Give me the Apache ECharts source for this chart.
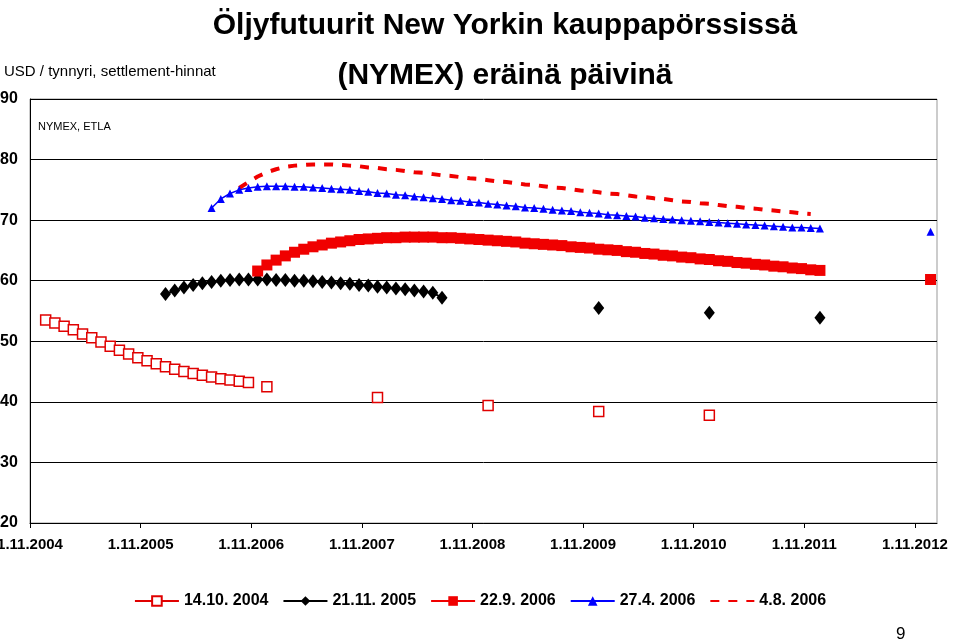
<!DOCTYPE html>
<html><head><meta charset="utf-8">
<script src="https://cdn.jsdelivr.net/npm/echarts@6/dist/echarts.min.js"></script>
<style>html,body{margin:0;padding:0;background:#fff}#c{width:960px;height:644px}</style>
</head><body><div id="c"></div>
<script>
const seriesNames = ['14.10. 2004','21.11. 2005','22.9. 2006','27.4. 2006','4.8. 2006'];
const xTickLabels = ['1.11.2004','1.11.2005','1.11.2006','1.11.2007','1.11.2008','1.11.2009','1.11.2010','1.11.2011','1.11.2012'];

const s1Start = '2004-12';
const s1Values = [53.5,53.0,52.5,51.9,51.2,50.6,49.9,49.2,48.5,47.9,47.3,46.8,46.3,45.8,45.4,45.0,44.7,44.4,44.1,43.8,43.6,43.4,43.2];
const s1ExtraMonths = ['2006-12','2007-12','2008-12','2009-12','2010-12'];
const s1ExtraValues = [42.5,40.7,39.4,38.4,37.8];

const s2Start = '2006-01';
const s2Values = [57.8,58.4,58.9,59.3,59.6,59.8,60.0,60.1,60.2,60.2,60.2,60.2,60.1,60.1,60.0,60.0,59.9,59.8,59.7,59.6,59.5,59.3,59.2,59.0,58.9,58.7,58.6,58.4,58.2,58.0,57.2];
const s2ExtraMonths = ['2009-12','2010-12','2011-12'];
const s2ExtraValues = [55.5,54.7,53.9];

const s3Start = '2006-11';
const s3Values = [61.6,62.6,63.4,64.1,64.7,65.2,65.6,65.9,66.2,66.4,66.6,66.8,66.9,67.0,67.1,67.1,67.2,67.2,67.2,67.2,67.1,67.1,67.0,66.9,66.8,66.7,66.6,66.5,66.4,66.2,66.1,66.0,65.9,65.8,65.6,65.5,65.4,65.2,65.1,65.0,64.8,64.7,64.5,64.4,64.2,64.1,63.9,63.8,63.6,63.5,63.3,63.2,63.0,62.9,62.7,62.6,62.4,62.3,62.1,62.0,61.8,61.7];
const s3ExtraMonths = ['2012-12'];
const s3ExtraValues = [60.2];

const s4Start = '2006-06';
const s4Values = [72.0,73.5,74.4,75.0,75.3,75.5,75.6,75.6,75.6,75.5,75.5,75.4,75.3,75.2,75.1,75.0,74.8,74.7,74.5,74.4,74.2,74.1,73.9,73.8,73.6,73.5,73.3,73.2,73.0,72.9,72.7,72.6,72.4,72.3,72.1,72.0,71.9,71.7,71.6,71.5,71.3,71.2,71.1,70.9,70.8,70.7,70.6,70.4,70.3,70.2,70.1,70.0,69.9,69.8,69.7,69.6,69.5,69.4,69.3,69.2,69.1,69.0,68.9,68.8,68.8,68.7,68.6];
const s4ExtraMonths = ['2012-12'];
const s4ExtraValues = [68.1];

const s5Start = '2006-09';
const s5Values = [75.3,76.3,77.2,77.9,78.4,78.8,79.0,79.1,79.2,79.2,79.2,79.1,79.0,78.9,78.7,78.6,78.4,78.3,78.1,77.9,77.8,77.6,77.4,77.3,77.1,76.9,76.8,76.6,76.4,76.3,76.1,75.9,75.8,75.6,75.4,75.3,75.1,74.9,74.8,74.6,74.4,74.3,74.1,73.9,73.8,73.6,73.5,73.3,73.1,73.0,72.8,72.7,72.5,72.3,72.2,72.0,71.9,71.7,71.6,71.4,71.3,71.1,71.0];

function mi(s){const p=s.split('-').map(Number);return (p[0]-2004)*12+(p[1]-11)+0.7;}
function build(start, vals, exM, exV){
  const b=mi(start); const d=vals.map((v,i)=>[b+i,v]);
  (exM||[]).forEach((m,i)=>{d.push([mi(m)-0.5,null]);d.push([mi(m),exV[i]]);});
  return d;
}
const FONT="'Liberation Sans',Arial,sans-serif";
const chart=echarts.init(document.getElementById('c'),null,{renderer:'canvas'});
chart.setOption({
  animation:false,
  title:[
    {text:'Öljyfutuurit New Yorkin kauppapörssissä\n(NYMEX) eräinä päivinä',left:500,top:-4,textAlign:'center',
     textStyle:{fontFamily:FONT,fontSize:30,fontWeight:'bold',color:'#000',lineHeight:50}},
  ],
  graphic:[
    {type:'text',left:4,top:64,style:{text:'USD / tynnyri, settlement-hinnat',font:"15px "+FONT,fill:'#000'}},
    {type:'text',left:38,top:121,style:{text:'NYMEX, ETLA',font:"11px 'Liberation Sans',Arial",fill:'#000'}},
    {type:'text',left:896,top:626,style:{text:'9',font:"17px 'Liberation Sans',Arial",fill:'#000'}}
  ],
  grid:{left:30,right:23,top:99,bottom:121,outerBoundsMode:'none',containLabel:false,show:true,borderColor:'#999',borderWidth:1},
  legend:{bottom:30,left:'center',itemWidth:44,itemHeight:12,itemGap:14,
    textStyle:{fontFamily:FONT,fontSize:16,fontWeight:'bold',color:'#000'},
    data:[seriesNames[0],seriesNames[1],seriesNames[2],seriesNames[3],{name:seriesNames[4],itemStyle:{opacity:0}}]},
  xAxis:{type:'value',min:0,max:98.4,interval:12,
    axisLine:{show:true,lineStyle:{color:'#000'}},axisTick:{show:true,length:5,lineStyle:{color:'#000'}},
    splitLine:{show:false},
    axisLabel:{margin:14,fontFamily:FONT,fontSize:15,fontWeight:'bold',color:'#000',
      formatter:v=>xTickLabels[Math.round(v/12)]||''}},
  yAxis:{type:'value',min:20,max:90,interval:10,
    axisLine:{show:true,lineStyle:{color:'#000'}},axisTick:{show:false},
    splitLine:{show:true,lineStyle:{color:'#000',width:1}},
    axisLabel:{margin:30,align:'left',fontFamily:FONT,fontSize:16,fontWeight:'bold',color:'#000'}},
  series:[
    {name:seriesNames[0],type:'line',data:build(s1Start,s1Values,s1ExtraMonths,s1ExtraValues),
     symbol:'rect',symbolSize:10,itemStyle:{color:'#fff',borderColor:'#e00000',borderWidth:1.5},
     lineStyle:{color:'#e00000',width:1.5},connectNulls:false},
    {name:seriesNames[1],type:'line',data:build(s2Start,s2Values,s2ExtraMonths,s2ExtraValues),
     symbol:'diamond',symbolSize:[11,14],itemStyle:{color:'#000'},lineStyle:{color:'#000',width:2},connectNulls:false},
    {name:seriesNames[2],type:'line',data:build(s3Start,s3Values,s3ExtraMonths,s3ExtraValues),
     symbol:'rect',symbolSize:11,itemStyle:{color:'#f00000'},lineStyle:{color:'#f00000',width:2},connectNulls:false},
    {name:seriesNames[3],type:'line',data:build(s4Start,s4Values,s4ExtraMonths,s4ExtraValues),
     symbol:'triangle',symbolSize:8,itemStyle:{color:'#0000ff'},lineStyle:{color:'#0000ff',width:1.5},connectNulls:false},
    {name:seriesNames[4],type:'line',data:build(s5Start,s5Values),
     symbol:'none',showSymbol:false,itemStyle:{color:'#f00000'},lineStyle:{color:'#f00000',width:4,type:[9,9]}}
  ]
});
</script></body></html>
